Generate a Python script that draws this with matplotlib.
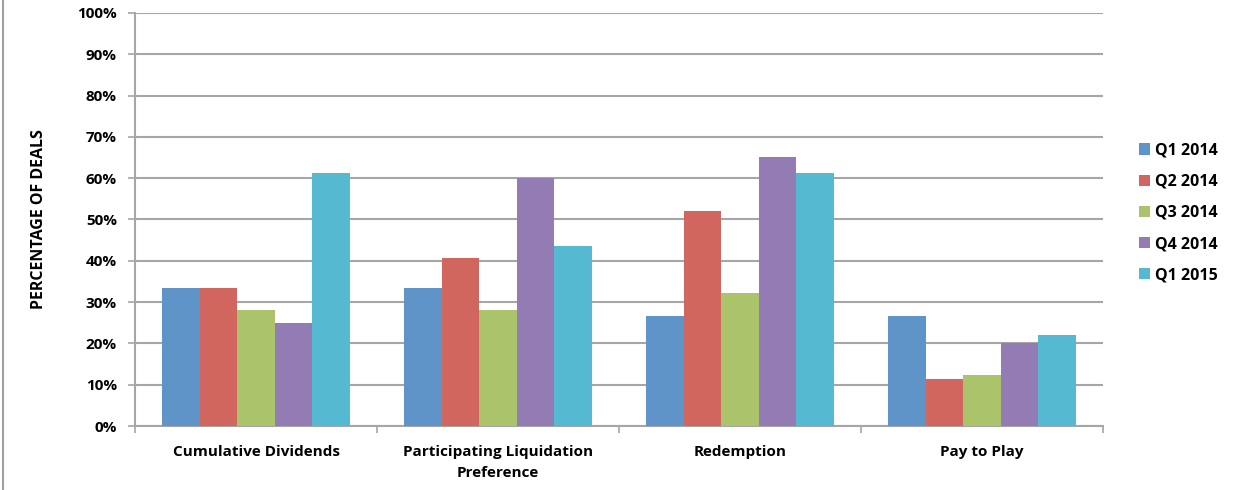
import numpy as np
import matplotlib
matplotlib.use("Agg")
import matplotlib.pyplot as plt
from matplotlib.lines import Line2D
from matplotlib.ticker import FixedLocator, PercentFormatter

plt.rcParams['font.family'] = ['Open Sans', 'DejaVu Sans']

categories = ["Cumulative Dividends", "Participating Liquidation\nPreference",
              "Redemption", "Pay to Play"]
series = ["Q1 2014", "Q2 2014", "Q3 2014", "Q4 2014", "Q1 2015"]
q1_2014 = [33.3, 33.3, 26.7, 26.7]
q2_2014 = [33.3, 40.7, 52.0, 11.4]
q3_2014 = [28.0, 28.0, 32.2, 12.3]
q4_2014 = [25.0, 60.0, 65.2, 20.0]
q1_2015 = [61.3, 43.5, 61.3, 22.0]
values = [q1_2014, q2_2014, q3_2014, q4_2014, q1_2015]
colors = ["#5E94C8", "#D0665E", "#ABC46B", "#927CB3", "#56B9D2"]

fig = plt.figure(figsize=(12.41, 4.90), dpi=100)
ax = fig.add_axes([0.1088, 0.1306, 0.78, 0.843])

x = np.arange(len(categories))
width = 0.155
for i, (name, vals, c) in enumerate(zip(series, values, colors)):
    ax.bar(x + (i - 2) * width, vals, width, color=c, label=name, zorder=3)

grid_c = "#A6A6A6"
ax.set_ylim(0, 100)
ax.set_xlim(-0.5, len(categories) - 0.5)
ax.yaxis.set_major_locator(FixedLocator(np.arange(0, 101, 10)))
ax.yaxis.set_major_formatter(PercentFormatter(decimals=0))
ax.grid(axis='y', color=grid_c, linewidth=1.5, zorder=0)

ax.set_xticks(x)
ax.set_xticklabels(categories, fontsize=11, fontweight='bold', linespacing=1.6)
ax.xaxis.set_minor_locator(FixedLocator(np.arange(-0.5, len(categories), 1.0)))
ax.tick_params(axis='x', which='major', length=0, pad=14)
ax.tick_params(axis='x', which='minor', length=5, color=grid_c, width=1.2)
ax.tick_params(axis='y', length=5, color=grid_c, width=1.2, pad=8)
for lbl in ax.get_yticklabels():
    lbl.set_fontweight('bold')
    lbl.set_fontsize(11)

for s in ['top', 'right']:
    ax.spines[s].set_visible(False)
for s in ['left', 'bottom']:
    ax.spines[s].set_color(grid_c)
    ax.spines[s].set_linewidth(1.5)

ax.set_ylabel("PERCENTAGE OF DEALS", fontsize=11.5, fontweight='bold', labelpad=22)

ax.legend(loc='center left', bbox_to_anchor=(1.022, 0.516), frameon=False,
          prop={'weight': 'bold', 'size': 11.5}, handlelength=0.7,
          handleheight=0.7, handletextpad=0.35, labelspacing=0.95)

# thin frame line at the left edge
fig.add_artist(Line2D([0.0028, 0.0028], [0, 1], color="#A0A0A0", linewidth=1.5))

fig.savefig("out.png", dpi=100)
